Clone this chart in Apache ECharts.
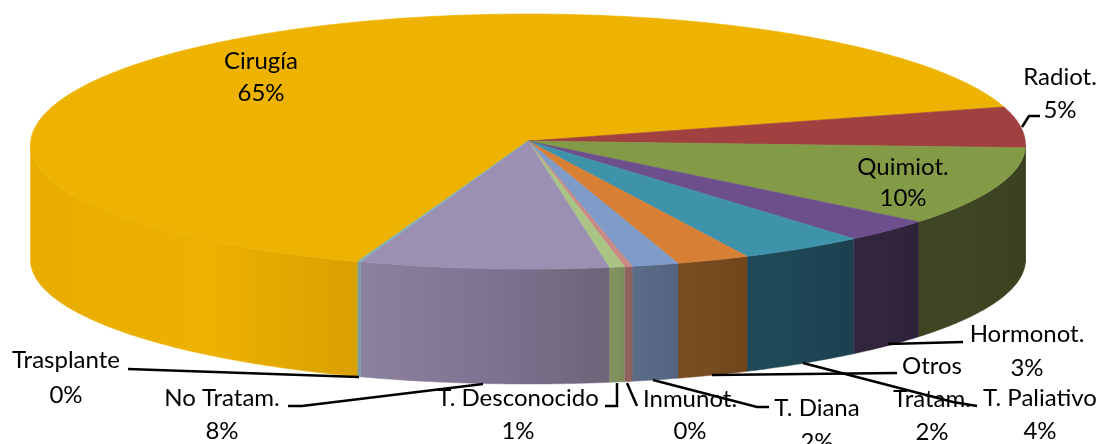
<!DOCTYPE html>
<html>
<head>
<meta charset="utf-8">
<title>Tratamientos</title>
<script src="https://cdn.jsdelivr.net/npm/echarts@6/dist/echarts.min.js"></script>
<style>
html,body{margin:0;padding:0;background:#fff;overflow:hidden}
#chart{width:1108px;height:444px}
</style>
</head>
<body>
<div id="chart"></div>
<script>
// Tratamientos, share of cases in percent, clockwise from the Cirugía slice
var categories = ['Cirugía', 'Radiot.', 'Quimiot.', 'Hormonot.', 'T. Paliativo', 'Otros\nTratam.', 'T. Diana', 'Inmunot.', 'T. Desconocido', 'No Tratam.', 'Trasplante'];
var shares = [64.75, 5.05, 10.28, 3.0, 4.11, 2.38, 1.52, 0.25, 0.5, 8.06, 0.1];

// Slice colours: top face and the left/middle/right stops of the side wall
var topColors = ['#EEB300', '#A04040', '#839B46', '#6C4F8C', '#3E93AB', '#D67F35', '#7F9BC8', '#C98A85', '#AAC486', '#9C90B2', '#7FB0BC'];
var wallLeft = ['#E8AD00', '#6A2A2A', '#3D4522', '#32263F', '#1F4A5A', '#7A4C22', '#5A6C88', '#8F625D', '#82925F', '#8C819E', '#7A9CA6'];
var wallMid = ['#EDB100', '#6A2A2A', '#3D4522', '#32263F', '#1E4655', '#774A20', '#586884', '#8F625D', '#7F8F5E', '#7D7290', '#7A9CA6'];
var wallRight = ['#D9A000', '#6A2A2A', '#3A4120', '#2E223B', '#1C3F4E', '#704519', '#546480', '#8F625D', '#7C8C5C', '#6E6478', '#7A9CA6'];

// Pie geometry in canvas pixels
var pie = { apexX: 528, apexY: 141, cx: 528, cy: 145, rx: 497.5, ryUp: 131, ryDown: 124, depth: 115, startDeg: 110 };

// Where each label block sits and how its leader line runs
var labelBoxes = [
  { x: 261, y: 77, lh: 32 },
  { x: 1060, y: 94, lh: 33 },
  { x: 903, y: 183, lh: 31 },
  { x: 1027, y: 351, lh: 34 },
  { x: 1040, y: 415, lh: 33 },
  { x: 932, y: 399, lh: 33 },
  { x: 817, y: 425, lh: 34 },
  { x: 690, y: 415, lh: 32 },
  { x: 518, y: 415, lh: 33 },
  { x: 222, y: 415, lh: 33 },
  { x: 66, y: 378, lh: 35 }
];
var leaders = [
  null,
  [[1022, 127], [1029, 116], [1040, 116]],
  null,
  [[888, 344], [963, 342]],
  [[803, 363], [953, 402], [977, 406]],
  [[712, 375], [897, 373]],
  [[653, 380], [757, 407], [769, 407]],
  [[627, 383], [637, 406]],
  [[617, 383], [617, 406], [605, 406]],
  [[288, 406], [302, 406], [483, 384]],
  [[128, 369], [359, 377]]
];

var total = shares.reduce(function (a, b) { return a + b; }, 0);
var startAngles = [];
shares.reduce(function (acc, v, i) { startAngles[i] = acc; return acc + v / total * 360; }, pie.startDeg);

function rimPoint(deg, drop) {
  var t = deg * Math.PI / 180, s = Math.sin(t);
  return [pie.cx + pie.rx * Math.cos(t), pie.cy + (s < 0 ? pie.ryUp : pie.ryDown) * s + (drop || 0)];
}
function arcPoints(a0, a1, drop) {
  var pts = [], n = Math.max(2, Math.ceil((a1 - a0) * 2));
  for (var i = 0; i <= n; i++) pts.push(rimPoint(a0 + (a1 - a0) * i / n, drop));
  return pts;
}

// Front wall of one slice: only the part of its arc between 0° and 180° faces the viewer
function renderWall(params, api) {
  var i = params.dataIndex;
  var a0 = startAngles[i], a1 = a0 + api.value(0) / total * 360;
  var parts = [];
  [[0, 180], [360, 540]].forEach(function (win) {
    var lo = Math.max(a0, win[0]), hi = Math.min(a1, win[1]);
    if (hi > lo) parts.push([lo, hi]);
  });
  return {
    type: 'group',
    children: parts.map(function (p) {
      var pts = arcPoints(p[0], p[1], 0).concat(arcPoints(p[0], p[1], pie.depth).reverse());
      return {
        type: 'polygon',
        shape: { points: pts },
        style: {
          fill: new echarts.graphic.LinearGradient(0, 0, 1, 0, [
            { offset: 0, color: wallLeft[i] },
            { offset: 0.55, color: wallMid[i] },
            { offset: 1, color: wallRight[i] }
          ]),
          stroke: wallMid[i],
          lineWidth: 0.5
        }
      };
    })
  };
}

// Top face of one slice, from the apex out to its rim arc
function renderTop(params, api) {
  var i = params.dataIndex;
  var a0 = startAngles[i], a1 = a0 + api.value(0) / total * 360;
  var pts = [[pie.apexX, pie.apexY]].concat(arcPoints(a0, a1, 0));
  return {
    type: 'polygon',
    shape: { points: pts },
    style: { fill: topColors[i], stroke: topColors[i], lineWidth: 0.6 }
  };
}

var seriesData = shares.map(function (v, i) { return { name: categories[i], value: [v] }; });

var graphics = [];
categories.forEach(function (name, i) {
  var box = labelBoxes[i];
  graphics.push({
    type: 'text',
    x: box.x,
    y: box.y,
    z: 10,
    style: {
      text: name + '\n' + Math.round(shares[i]) + '%',
      fill: '#000',
      font: '24px Lato, Carlito, sans-serif',
      lineHeight: box.lh,
      align: 'center',
      verticalAlign: 'middle'
    }
  });
});
leaders.forEach(function (pts) {
  if (!pts) return;
  graphics.push({
    type: 'polyline',
    z: 11,
    shape: { points: pts },
    style: { stroke: '#000', lineWidth: 2.5, fill: null }
  });
});

var chart = echarts.init(document.getElementById('chart'), null, { renderer: 'canvas' });
chart.setOption({
  backgroundColor: '#fff',
  animation: false,
  series: [
    { type: 'custom', name: 'Pared', coordinateSystem: 'none', z: 1, silent: true, renderItem: renderWall, data: seriesData },
    { type: 'custom', name: 'Tratamientos', coordinateSystem: 'none', z: 2, silent: true, renderItem: renderTop, data: seriesData }
  ],
  graphic: graphics
});
</script>
</body>
</html>
